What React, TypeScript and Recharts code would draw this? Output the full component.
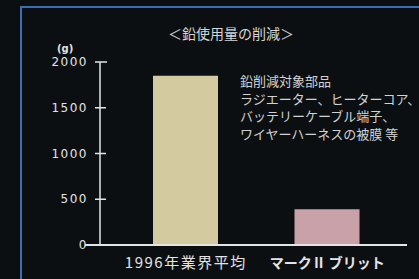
import { Bar, BarChart, Cell, XAxis, YAxis } from "recharts"

const categories = ["1996年業界平均", "マークⅡ ブリット"]
const leadGrams = [1850, 390]
const barColors = ["#d3cb9f", "#c9a2a9"]
const yTicks = [0, 500, 1000, 1500, 2000]
const noteLines = [
  "鉛削減対象部品",
  "ラジエーター、ヒーターコア、",
  "バッテリーケーブル端子、",
  "ワイヤーハーネスの被膜 等",
]

const data = categories.map((name, i) => ({ name, value: leadGrams[i] }))

const ink = "#e4e4e4"
const jp = "'Noto Sans CJK JP', sans-serif"

function YTick({ x, y, payload }: any) {
  const v = payload.value
  return (
    <g>
      <line x1={x - 5} x2={x + (v === 2000 ? 7 : 6)} y1={y} y2={y} stroke={ink} strokeWidth={1.5} />
      {v === 0 && <line x1={x - 15} x2={x} y1={y} y2={y} stroke={ink} strokeWidth={2} />}
      <text
        x={x - 12}
        y={y}
        dy={4}
        textAnchor="end"
        fill={ink}
        fontSize={12}
        fontFamily="'DejaVu Sans', sans-serif"
        letterSpacing={1.5}
      >
        {v}
      </text>
    </g>
  )
}

function XTick({ x, y, payload, index }: any) {
  const bold = index === 1
  return (
    <text
      x={x}
      y={y + 23}
      textAnchor="middle"
      fill={ink}
      fontSize={bold ? 14 : 15}
      fontWeight={bold ? "bold" : "normal"}
      fontFamily={jp}
      letterSpacing={bold ? 0 : 1.5}
    >
      {payload.value}
    </text>
  )
}

export default function App() {
  return (
    <div
      style={{
        position: "absolute",
        left: 0,
        top: 0,
        width: 419,
        height: 279,
        background: "#0c0f12",
        overflow: "hidden",
        fontFamily: jp,
      }}
    >
      <div style={{ position: "absolute", left: 20, top: 6, width: 2, height: 273, background: "#3b6fb5" }} />
      <div style={{ position: "absolute", left: 20, top: 6, width: 399, height: 2, background: "#3b6fb5" }} />
      <div style={{ position: "absolute", left: 0, top: 0 }}>
        <BarChart width={419} height={279} data={data} margin={{ top: 62, right: 12, bottom: 0, left: 0 }}>
          <XAxis
            dataKey="name"
            height={34}
            tickLine={false}
            tickSize={0}
            tickMargin={0}
            padding={{ left: 15, right: 9 }}
            axisLine={{ stroke: ink, strokeWidth: 2 }}
            tick={<XTick />}
            interval={0}
          />
          <YAxis
            width={100}
            domain={[0, 2000]}
            ticks={yTicks}
            tickLine={false}
            tickSize={0}
            tickMargin={0}
            axisLine={{ stroke: ink, strokeWidth: 1.5 }}
            tick={<YTick />}
            interval={0}
          />
          <Bar dataKey="value" barSize={65} isAnimationActive={false}>
            {data.map((d, i) => (
              <Cell key={d.name} fill={barColors[i]} />
            ))}
          </Bar>
        </BarChart>
      </div>
      <div
        style={{
          position: "absolute",
          left: 168,
          top: 25,
          fontSize: 14,
          lineHeight: "16px",
          color: "#d6d6d6",
          whiteSpace: "nowrap",
        }}
      >
        ＜鉛使用量の削減＞
      </div>
      <div
        style={{
          position: "absolute",
          left: 57,
          top: 43,
          fontSize: 10,
          lineHeight: "11px",
          fontWeight: "bold",
          color: ink,
          fontFamily: "'DejaVu Sans', sans-serif",
        }}
      >
        (g)
      </div>
      <div style={{ position: "absolute", left: 240, top: 72, color: "#d2d2d2", fontSize: 13, lineHeight: "17.5px" }}>
        {noteLines.map((t) => (
          <div key={t} style={{ whiteSpace: "nowrap" }}>
            {t}
          </div>
        ))}
      </div>
    </div>
  )
}
